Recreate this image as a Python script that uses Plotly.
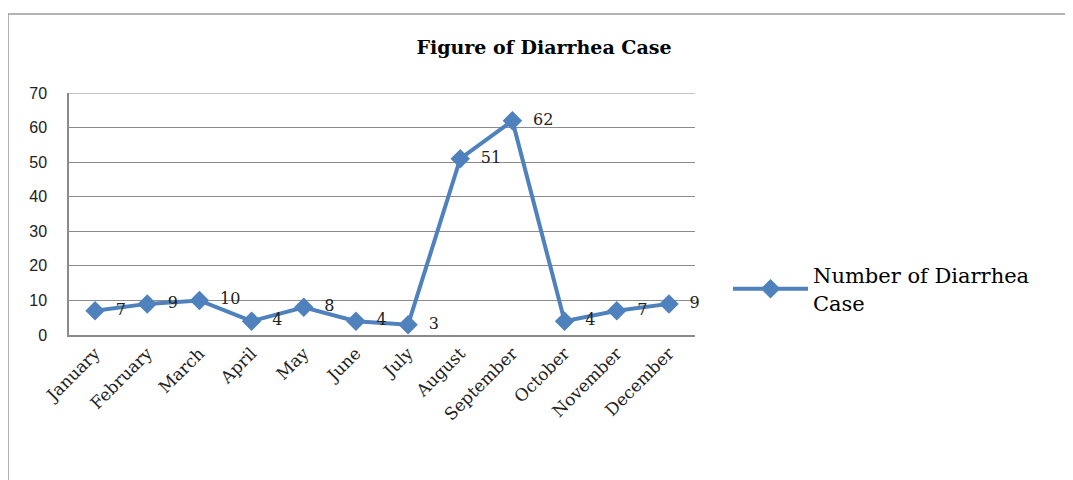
import plotly.graph_objects as go

months = ["January", "February", "March", "April", "May", "June", "July",
          "August", "September", "October", "November", "December"]
cases = [7, 9, 10, 4, 8, 4, 3, 51, 62, 4, 7, 9]
y_ticks = [0, 10, 20, 30, 40, 50, 60, 70]
series_name = "Number of Diarrhea<br>Case"
title_text = "Figure of Diarrhea Case"

BLUE = "#4F81BD"
SERIF = "DejaVu Serif, Liberation Serif, serif"
GRID = "#8a8a8a"

# page body has an 8px margin: screenshot coords = figure coords + 8
OFF = 8
W, H = 1073, 480
L, R_px, T, B_px = 69 - OFF, 695 - OFF, 93 - OFF, 335 - OFF
pw, ph = R_px - L, B_px - T

def px_x(p):
    return (p - OFF - L) / pw

def px_y(p):
    return (B_px - (p - OFF)) / ph

fig = go.Figure()
fig.add_trace(go.Scatter(
    x=months, y=cases, name=series_name,
    mode="lines+markers+text",
    line=dict(color=BLUE, width=4),
    marker=dict(symbol="diamond", size=15, color=BLUE),
    texttemplate="  %{y}", textposition="middle right",
    textfont=dict(family=SERIF, size=16, color="#222"),
    cliponaxis=False,
))

# outer chart frame
fig.add_shape(type="rect", xref="paper", yref="paper",
              x0=px_x(8), x1=px_x(1100), y0=px_y(14), y1=px_y(500),
              line=dict(color="#9a9a9a", width=1.5), layer="below")
# top gridline (at the edge of the range)
fig.add_shape(type="line", xref="paper", yref="y", x0=0, x1=1,
              y0=y_ticks[-1], y1=y_ticks[-1],
              line=dict(color=GRID, width=1.2), layer="below")

fig.update_layout(
    width=W, height=H,
    margin=dict(l=L, r=W - R_px, t=T, b=H - B_px, autoexpand=False),
    paper_bgcolor="white", plot_bgcolor="white",
    title=dict(text="<b>" + title_text + "</b>", xref="container",
               x=(544 - OFF) / W, xanchor="center",
               yref="container", y=1 - (47 - OFF) / H, yanchor="middle",
               font=dict(family=SERIF, size=19, color="black")),
    showlegend=True,
    legend=dict(x=px_x(728), y=px_y(289), xanchor="left", yanchor="middle",
                font=dict(family=SERIF, size=21, color="black"),
                itemwidth=75, bgcolor="rgba(0,0,0,0)"),
    xaxis=dict(type="category", tickangle=-45, showgrid=False,
               showline=True, linecolor=GRID, linewidth=1.5,
               ticks="", range=[-0.5, 11.5], automargin=False,
               tickfont=dict(family=SERIF, size=17, color="#222")),
    yaxis=dict(range=[0, 70], tickvals=y_ticks, showgrid=True,
               gridcolor=GRID, gridwidth=1.2,
               showline=True, linecolor=GRID, linewidth=1.5,
               zeroline=False, ticks="", ticklabelstandoff=17, automargin=False,
               tickfont=dict(family="Liberation Sans, Arial, sans-serif", size=16, color="#222")),
)

fig.write_html("out.html")
